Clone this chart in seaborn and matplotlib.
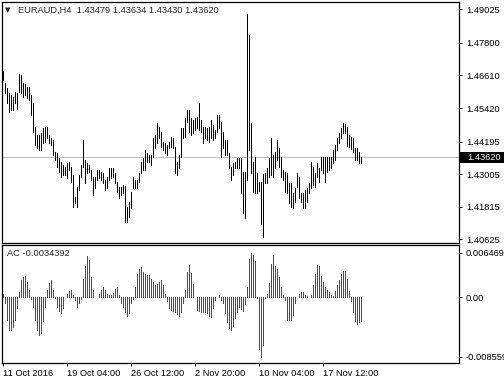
import numpy as np
import pandas as pd
import matplotlib
matplotlib.use("Agg")
import matplotlib.pyplot as plt
from matplotlib.patches import Rectangle
import seaborn as sns

# EURAUD H4 bars (high / low), oldest first
bar_high = [
    1.4678, 1.4634, 1.4616, 1.4598, 1.4590, 1.4583, 1.4601, 1.4598, 1.4667, 1.4663,
    1.4634, 1.4630, 1.4619, 1.4619, 1.4590, 1.4561, 1.4473, 1.4444, 1.4444, 1.4452,
    1.4470, 1.4473, 1.4473, 1.4444, 1.4433, 1.4426, 1.4382, 1.4379, 1.4360, 1.4346,
    1.4335, 1.4327, 1.4342, 1.4346, 1.4327, 1.4298, 1.4218, 1.4254, 1.4298, 1.4335,
    1.4426, 1.4353, 1.4342, 1.4335, 1.4317, 1.4291, 1.4291, 1.4317, 1.4317, 1.4309,
    1.4306, 1.4280, 1.4291, 1.4324, 1.4324, 1.4324, 1.4306, 1.4273, 1.4254, 1.4254,
    1.4262, 1.4258, 1.4181, 1.4200, 1.4236, 1.4291, 1.4280, 1.4280, 1.4306, 1.4346,
    1.4360, 1.4390, 1.4379, 1.4371, 1.4371, 1.4433, 1.4444, 1.4488, 1.4473, 1.4455,
    1.4419, 1.4415, 1.4408, 1.4419, 1.4437, 1.4433, 1.4400, 1.4346, 1.4371, 1.4470,
    1.4470, 1.4506, 1.4536, 1.4536, 1.4506, 1.4499, 1.4506, 1.4510, 1.4561, 1.4499,
    1.4473, 1.4473, 1.4470, 1.4473, 1.4499, 1.4481, 1.4463, 1.4517, 1.4517, 1.4492,
    1.4455, 1.4426, 1.4426, 1.4379, 1.4327, 1.4342, 1.4346, 1.4360, 1.4360, 1.4360,
    1.4309, 1.4309, 1.4886, 1.4809, 1.4488, 1.4346, 1.4364, 1.4306, 1.4273, 1.4273,
    1.4302, 1.4306, 1.4324, 1.4360, 1.4433, 1.4371, 1.4382, 1.4426, 1.4397, 1.4364,
    1.4317, 1.4309, 1.4306, 1.4269, 1.4269, 1.4233, 1.4251, 1.4306, 1.4291, 1.4233,
    1.4233, 1.4244, 1.4251, 1.4269, 1.4346, 1.4327, 1.4306, 1.4342, 1.4324, 1.4364,
    1.4364, 1.4364, 1.4364, 1.4364, 1.4364, 1.4390, 1.4408, 1.4433, 1.4452, 1.4470,
    1.4488, 1.4484, 1.4473, 1.4444, 1.4437, 1.4433, 1.4397, 1.4397, 1.4382, 1.43634,
]
bar_low = [
    1.4645, 1.4598, 1.4561, 1.4528, 1.4536, 1.4536, 1.4561, 1.4539, 1.4601, 1.4598,
    1.4583, 1.4590, 1.4579, 1.4572, 1.4517, 1.4455, 1.4408, 1.4397, 1.4390, 1.4390,
    1.4415, 1.4419, 1.4433, 1.4415, 1.4408, 1.4371, 1.4353, 1.4327, 1.4309, 1.4291,
    1.4298, 1.4298, 1.4287, 1.4317, 1.4273, 1.4181, 1.4196, 1.4181, 1.4244, 1.4291,
    1.4327, 1.4269, 1.4306, 1.4309, 1.4280, 1.4225, 1.4251, 1.4280, 1.4287, 1.4280,
    1.4269, 1.4244, 1.4251, 1.4280, 1.4287, 1.4291, 1.4269, 1.4236, 1.4214, 1.4225,
    1.4233, 1.4127, 1.4127, 1.4145, 1.4178, 1.4251, 1.4251, 1.4251, 1.4273, 1.4306,
    1.4317, 1.4317, 1.4346, 1.4346, 1.4335, 1.4364, 1.4397, 1.4415, 1.4433, 1.4400,
    1.4390, 1.4379, 1.4371, 1.4397, 1.4400, 1.4397, 1.4306, 1.4298, 1.4324, 1.4364,
    1.4433, 1.4437, 1.4492, 1.4455, 1.4444, 1.4452, 1.4463, 1.4470, 1.4463, 1.4455,
    1.4415, 1.4433, 1.4426, 1.4419, 1.4433, 1.4426, 1.4433, 1.4455, 1.4470, 1.4364,
    1.4397, 1.4371, 1.4371, 1.4324, 1.4280, 1.4298, 1.4324, 1.4324, 1.4324, 1.4233,
    1.4160, 1.4141, 1.4280, 1.4390, 1.4306, 1.4236, 1.4233, 1.4233, 1.4240, 1.4119,
    1.4072, 1.4269, 1.4269, 1.4291, 1.4298, 1.4291, 1.4324, 1.4353, 1.4327, 1.4291,
    1.4280, 1.4236, 1.4233, 1.4196, 1.4181, 1.4178, 1.4200, 1.4254, 1.4214, 1.4200,
    1.4178, 1.4178, 1.4200, 1.4233, 1.4251, 1.4262, 1.4254, 1.4291, 1.4273, 1.4317,
    1.4306, 1.4273, 1.4309, 1.4317, 1.4324, 1.4342, 1.4353, 1.4390, 1.4415, 1.4433,
    1.4452, 1.4452, 1.4404, 1.4400, 1.4393, 1.4382, 1.4353, 1.4353, 1.4342, 1.43430,
]
last_bar = [1.43479, 1.43634, 1.43430, 1.43620]  # O H L C

# Accelerator Oscillator values
ac_values = [
    0.00057, -0.00086, -0.00324, -0.00466, -0.00476, -0.00428, -0.00324, -0.00157, 0.00081, 0.00248,
    0.00295, 0.00305, 0.00224, 0.00114, -0.00029, -0.00133, -0.00324, -0.00466, -0.00547, -0.00514,
    -0.00347, -0.00133, 0.00114, 0.00209, 0.00248, 0.00114, -0.00010, -0.00133, -0.00190, -0.00228,
    -0.00157, 0.00010, 0.00048, 0.00095, 0.00114, 0.00033, -0.00038, -0.00133, -0.00086, -0.00024,
    0.00271, 0.00462, 0.00605, 0.00543, 0.00295, 0.00105, 0.00010, 0.00005, 0.00057, 0.00105,
    0.00152, 0.00114, 0.00057, 0.00029, 0.00038, 0.00071, 0.00119, 0.00152, 0.00033, -0.00086,
    -0.00133, -0.00205, -0.00267, -0.00228, -0.00086, -0.00029, 0.00152, 0.00343, 0.00414, 0.00438,
    0.00367, 0.00343, 0.00328, 0.00319, 0.00271, 0.00224, 0.00176, 0.00200, 0.00224, 0.00257,
    0.00176, 0.00057, -0.00048, -0.00157, -0.00181, -0.00200, -0.00214, -0.00238, -0.00267, -0.00205,
    -0.00086, 0.00105, 0.00367, 0.00476, 0.00357, 0.00200, 0.00010, -0.00181, -0.00190, -0.00205,
    -0.00209, -0.00214, -0.00219, -0.00262, -0.00286, -0.00157, -0.00038, 0.00010, 0.00033, -0.00038,
    -0.00086, -0.00228, -0.00362, -0.00443, -0.00466, -0.00409, -0.00300, -0.00205, -0.00133, -0.00167,
    -0.00190, -0.00095, 0.00152, 0.00557, 0.006469, 0.00609, 0.00524, -0.00010, -0.00752, -0.008559,
    -0.00695, -0.00014, 0.00048, 0.00209, 0.00486, 0.00619, 0.00462, 0.00414, 0.00295, 0.00152,
    0.00033, -0.00038, -0.00324, -0.00333, -0.00324, -0.00252, -0.00086, 0.00010, 0.00048, 0.00081,
    0.00086, 0.00033, 0.00019, 0.00010, 0.00033, 0.00176, 0.00343, 0.00476, 0.00462, 0.00314,
    0.00224, 0.00152, 0.00114, 0.00081, 0.00033, 0.00014, 0.00095, 0.00176, 0.00257, 0.00343,
    0.00390, 0.00381, 0.00271, 0.00095, -0.00048, -0.00205, -0.00347, -0.00381, -0.00362, -0.0034392,
]

price_ticks = [1.49025, 1.47800, 1.46610, 1.45420, 1.44195, 1.43005, 1.41815, 1.40625]
ac_ticks = [0.006469, 0.0, -0.008559]
ac_tick_labels = ["0.006469", "0.00", "-0.008559"]
date_tick_bars = [0, 32, 64, 96, 128, 160]
date_labels = ["11 Oct 2016", "19 Oct 04:00", "26 Oct 12:00", "2 Nov 20:00", "10 Nov 04:00", "17 Nov 12:00"]

sns.set_style("white")
plt.rcParams["font.family"] = ["Liberation Sans", "DejaVu Sans"]
plt.rcParams["font.size"] = 6.7

df = pd.DataFrame({"high": bar_high, "low": bar_low, "ac": ac_values})
df["bar"] = np.arange(len(df))
prev = df["ac"].shift(1)
df["dir"] = np.where(df["ac"] > prev, "up", "down")
ac_colors = {"up": "#008000", "down": "#ff0000"}

W, H = 504, 385
fig = plt.figure(figsize=(W / 100, H / 100), dpi=100)
ax = fig.add_axes([2 / W, 1 - 243 / H, 457 / W, 241 / H])
ax2 = fig.add_axes([2 / W, 1 - 363 / H, 457 / W, 118 / H])

# price bars
ax.vlines(df["bar"], df["low"], df["high"], color="black", linewidth=0.55, antialiased=False)
ax.axhline(last_bar[3], color="#c0c0c0", linewidth=0.75, zorder=0)
ax.set_xlim(-0.5, 228)
ax.set_ylim(1.40491, 1.49292)
ax.set_xticks([])
ax.yaxis.tick_right()
ax.set_yticks(price_ticks, labels=[f"{p:.5f}" for p in price_ticks])

# current price label
box_h = 0.0040
ax.add_patch(Rectangle((1.002, last_bar[3] - box_h / 2), 0.2, box_h, transform=ax.get_yaxis_transform(),
                       facecolor="black", edgecolor="none", clip_on=False, zorder=5))
ax.text(1.018, last_bar[3], f"{last_bar[3]:.5f}", transform=ax.get_yaxis_transform(),
        color="white", va="center", ha="left", zorder=6)

ax.text(3 / 457, 0.965, "\u25bc", transform=ax.transAxes, family="DejaVu Sans", fontsize=5, va="center")
ax.text(16 / 457, 0.965, "EURAUD,H4  " + " ".join(f"{v:.5f}" for v in last_bar),
        transform=ax.transAxes, va="center", ha="left")

# AC histogram, green when rising, red when falling
ax2.vlines(df["bar"], 0, df["ac"], colors=df["dir"].map(ac_colors), linewidth=0.55, antialiased=False)
ax2.set_xlim(-0.5, 228)
ax2.set_ylim(-0.0095, 0.0076)
ax2.yaxis.tick_right()
ax2.set_yticks(ac_ticks, labels=ac_tick_labels)
ax2.set_xticks(date_tick_bars, labels=date_labels)
for t in ax2.get_xticklabels():
    t.set_ha("left")
ax2.text(5 / 457, 0.925, f"AC {ac_values[-1]:.7f}", transform=ax2.transAxes, va="center", ha="left")

for a in (ax, ax2):
    for s in a.spines.values():
        s.set_color("black")
        s.set_linewidth(0.9)
    a.tick_params(axis="y", which="both", right=True, left=False, length=2.5, width=0.7, pad=2.5,
                  colors="black", labelsize=6.7)
ax2.tick_params(axis="x", bottom=True, length=2.5, width=0.7, pad=1.5, labelsize=6.7, colors="black")

fig.savefig("out.png", dpi=100)
